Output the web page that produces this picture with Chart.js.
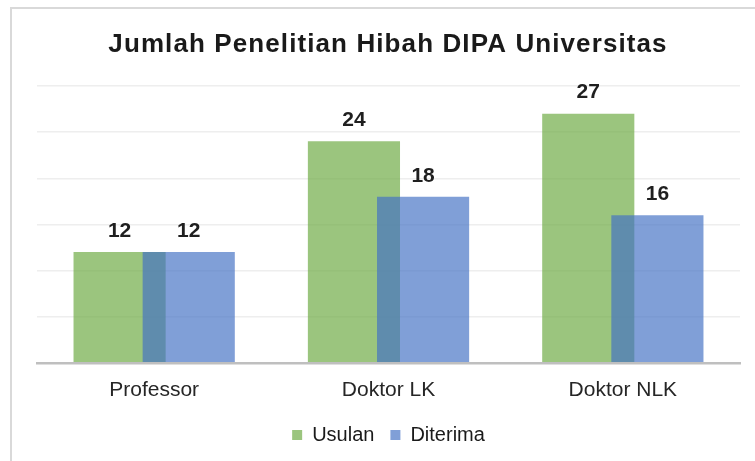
<!DOCTYPE html>
<html>
<head>
<meta charset="utf-8">
<script src="https://cdn.jsdelivr.net/npm/chart.js@4.4.1/dist/chart.umd.min.js"></script>
<style>
  html, body { margin: 0; padding: 0; background: #fff; }
  #wrap { width: 755px; height: 461px; }
</style>
</head>
<body>
<div id="wrap"><canvas id="chart" width="755" height="461"></canvas></div>
<script>
const categories = ['Professor', 'Doktor LK', 'Doktor NLK'];
const usulan = [12, 24, 27];
const diterima = [12, 18, 16];
const yTicks = [0, 5, 10, 15, 20, 25, 30];

const chartTitle = 'Jumlah Penelitian Hibah DIPA Universitas';
const FONT = "'Liberation Sans', Arial, sans-serif";

// frame + title
const frame = {
  id: 'frame',
  beforeDraw(chart) {
    const ctx = chart.ctx;
    ctx.save();
    ctx.strokeStyle = '#d9d9d9';
    ctx.lineWidth = 2;
    ctx.beginPath();
    ctx.moveTo(11, 470);
    ctx.lineTo(11, 8);
    ctx.lineTo(770, 8);
    ctx.stroke();

    ctx.font = "bold 26px " + FONT;
    ctx.letterSpacing = '1.1px';
    ctx.fillStyle = '#1a1a1a';
    ctx.textAlign = 'center';
    ctx.textBaseline = 'middle';
    ctx.fillText(chartTitle, 388, 45);
    ctx.restore();
  }
};

// draw green first, blue on top
const drawOrder = {
  id: 'drawOrder',
  beforeDatasetsDraw(chart) {
    chart.getSortedVisibleDatasetMetas().forEach(m => m.controller.draw());
    return false;
  }
};

const valueLabels = {
  id: 'valueLabels',
  afterDraw(chart) {
    const ctx = chart.ctx;
    ctx.save();
    ctx.font = "bold 21px " + FONT;
    ctx.fillStyle = '#1f1f1f';
    ctx.textAlign = 'center';
    ctx.textBaseline = 'middle';
    chart.data.datasets.forEach((ds, i) => {
      chart.getDatasetMeta(i).data.forEach((bar, j) => {
        ctx.fillText(ds.data[j], bar.x, bar.y - 21);
      });
    });
    ctx.restore();
  }
};

new Chart(document.getElementById('chart'), {
  type: 'bar',
  data: {
    labels: categories,
    datasets: [
      {
        label: 'Usulan',
        data: usulan,
        backgroundColor: 'rgba(112,173,71,0.7)',
        categoryPercentage: 0.59,
        barPercentage: 1.333
      },
      {
        label: 'Diterima',
        data: diterima,
        backgroundColor: 'rgba(68,114,196,0.68)',
        categoryPercentage: 0.59,
        barPercentage: 1.333
      }
    ]
  },
  plugins: [frame, drawOrder, valueLabels],
  options: {
    responsive: false,
    animation: false,
    layout: { padding: { left: 37, right: 15, top: 86, bottom: 6 } },
    plugins: {
      title: { display: false },
      tooltip: { enabled: false },
      legend: {
        position: 'bottom',
        labels: {
          boxWidth: 10,
          boxHeight: 10,
          padding: 16,
          color: '#1a1a1a',
          font: { family: FONT, size: 20 }
        }
      }
    },
    scales: {
      x: {
        grid: { display: false },
        border: { color: '#bfbfbf', width: 2.5 },
        ticks: { color: '#262626', font: { family: FONT, size: 21 }, padding: 6.5 }
      },
      y: {
        min: 0,
        max: 30,
        afterBuildTicks(axis) { axis.ticks = yTicks.map(v => ({ value: v })); },
        ticks: { display: false },
        grid: { color: '#eeeeee', lineWidth: 1.5, drawTicks: false },
        border: { display: false }
      }
    }
  }
});
</script>
</body>
</html>
